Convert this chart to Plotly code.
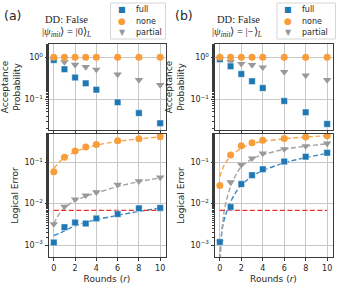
import plotly.graph_objects as go

rounds = [0, 1, 2, 3, 4, 6, 8, 10]

# Panel (a): |0>_L
acc_a_full = [0.86, 0.52, 0.33, 0.24, 0.17, 0.085, 0.047, 0.027]
acc_a_none = [1.0, 1.0, 1.0, 1.0, 1.0, 1.0, 1.0, 1.0]
acc_a_partial = [0.86, 0.77, 0.67, 0.59, 0.51, 0.39, 0.29, 0.22]
err_a_full = [0.00115, 0.0027, 0.0035, 0.0033, 0.0044, 0.0056, 0.0077, 0.0079]
err_a_none = [0.059, 0.132, 0.188, 0.235, 0.268, 0.334, 0.374, 0.418]
err_a_partial = [0.0032, 0.0085, 0.0127, 0.0159, 0.019, 0.029, 0.035, 0.043]

# Panel (b): |->_L
acc_b_full = [0.9, 0.61, 0.4, 0.27, 0.185, 0.091, 0.049, 0.026]
acc_b_none = [1.0, 1.0, 1.0, 1.0, 1.0, 1.0, 1.0, 1.0]
acc_b_partial = [0.9, 0.78, 0.7, 0.66, 0.58, 0.45, 0.37, 0.29]
err_b_full = [0.00118, 0.0083, 0.0297, 0.049, 0.068, 0.104, 0.137, 0.17]
err_b_none = [0.0275, 0.15, 0.25, 0.296, 0.34, 0.377, 0.41, 0.44]
err_b_partial = [0.00118, 0.033, 0.087, 0.125, 0.164, 0.209, 0.247, 0.286]

# Fit curves
fit_a_r = [0, 0.5, 1, 2, 3, 4, 6, 8, 10]
fit_a_full = [0.0017, 0.0019, 0.0022, 0.0029, 0.0035, 0.0041, 0.0052, 0.0065, 0.0078]
fit_a_none = [0.072, 0.1, 0.13, 0.18, 0.22, 0.26, 0.32, 0.37, 0.41]
fit_a_partial = [0.0033, 0.0056, 0.0079, 0.0117, 0.015, 0.018, 0.026, 0.034, 0.042]

fit_b_r = [0, 0.1, 0.25, 0.5, 1, 1.5, 2, 3, 4, 6, 8, 10]
fit_b_full = [0.0003, 0.0012, 0.0027, 0.005, 0.011, 0.019, 0.028, 0.046, 0.063, 0.097, 0.13, 0.165]
fit_b_none = [0.045, 0.055, 0.07, 0.095, 0.14, 0.18, 0.22, 0.28, 0.32, 0.37, 0.41, 0.44]
fit_b_partial = [0.0003, 0.0012, 0.0033, 0.009, 0.026, 0.05, 0.078, 0.12, 0.152, 0.205, 0.245, 0.28]

threshold = 0.0069
thr_r = [0, 10]

acc_ticks = [1, 0.1]
acc_ticktext = ["10<sup>0</sup>", "10<sup>−1</sup>"]
err_ticks = [0.1, 0.01, 0.001]
err_ticktext = ["10<sup>−1</sup>", "10<sup>−2</sup>", "10<sup>−3</sup>"]
x_ticks = [0, 2, 4, 6, 8, 10]
series_names = ["full", "none", "partial"]
legend_glyphs = ["■", "●", "▼"]

BLUE = "#1f77b4"
ORANGE = "#f99d3a"
GRAY = "#999999"
BLUE_L = "#3a88c5"
ORANGE_L = "#f7a54f"
GRAY_L = "#a3a3a3"
RED = "#e8312a"
TXT = "#262626"

W, H = 339, 300
def px(x):
    return x / W
def py(y):
    return 1 - y / H

fig = go.Figure()

panels = [
    dict(xa="x", ya="y", xb="x2", yb="y2",
         acc=(acc_a_full, acc_a_none, acc_a_partial),
         err=(err_a_full, err_a_none, err_a_partial),
         fit_r=fit_a_r, fit=(fit_a_full, fit_a_none, fit_a_partial)),
    dict(xa="x3", ya="y3", xb="x4", yb="y4",
         acc=(acc_b_full, acc_b_none, acc_b_partial),
         err=(err_b_full, err_b_none, err_b_partial),
         fit_r=fit_b_r, fit=(fit_b_full, fit_b_none, fit_b_partial)),
]

sty = {
    "full": dict(symbol="square", color=BLUE, size=6.5, line=dict(color="rgba(255,255,255,0.45)", width=1)),
    "none": dict(symbol="circle", color=ORANGE, size=7, line=dict(width=0)),
    "partial": dict(symbol="triangle-down", color=GRAY, size=7.5, line=dict(width=0)),
}
fitcol = {"full": BLUE_L, "none": ORANGE_L, "partial": GRAY_L}
glyphcol = {"full": BLUE, "none": ORANGE, "partial": GRAY}
draw_order = ["partial", "full", "none"]

for p in panels:
    for i, n in enumerate(series_names):
        fig.add_trace(go.Scatter(x=p["fit_r"], y=p["fit"][i], mode="lines",
                                 line=dict(color=fitcol[n], width=1.4, dash="5px,2.5px", shape="spline"),
                                 xaxis=p["xb"], yaxis=p["yb"], showlegend=False, hoverinfo="skip"))
    fig.add_trace(go.Scatter(x=thr_r, y=[threshold, threshold], mode="lines",
                             line=dict(color=RED, width=1.4, dash="5px,2.5px"),
                             xaxis=p["xb"], yaxis=p["yb"], showlegend=False))
    for n in draw_order:
        i = series_names.index(n)
        fig.add_trace(go.Scatter(x=rounds, y=p["acc"][i], mode="markers", name=n,
                                 marker=sty[n], xaxis=p["xa"], yaxis=p["ya"], showlegend=False))
        fig.add_trace(go.Scatter(x=rounds, y=p["err"][i], mode="markers", name=n,
                                 marker=sty[n], xaxis=p["xb"], yaxis=p["yb"], showlegend=False))

FRAME = "#3a3a3a"
GRID = "#c8c8c8"
tickfont = dict(family="DejaVu Sans", size=8, color=TXT)
titlefont = dict(family="DejaVu Sans", size=9, color=TXT)

def xax(domain, anchor, labels):
    return dict(domain=domain, anchor=anchor, range=[-0.5, 10.5], tickvals=x_ticks,
                showticklabels=labels, ticks="outside", ticklen=3, tickcolor=FRAME,
                showline=True, linecolor=FRAME, linewidth=1, mirror=True,
                showgrid=True, gridcolor=GRID, gridwidth=1, zeroline=False,
                tickfont=tickfont)

def yax(domain, anchor, rng, tv, tt, title):
    return dict(domain=domain, anchor=anchor, type="log", range=rng, tickvals=tv, ticktext=tt,
                ticks="outside", ticklen=3, tickcolor=FRAME,
                minor=dict(ticks="outside", ticklen=1.8, tickcolor=FRAME, showgrid=False),
                showline=True, linecolor=FRAME, linewidth=1, mirror=True,
                showgrid=True, gridcolor=GRID, gridwidth=1, zeroline=False,
                tickfont=tickfont,
                title=dict(text=title, font=titlefont, standoff=4))

dom_a = [px(48.5), px(165.5)]
dom_b = [px(214.5), px(332.5)]
dom_top = [py(130), py(44)]
dom_bot = [py(257), py(134)]
acc_rng = [-1.73, 0.317]
err_rng = [-3.29, -0.315]

xt = dict(text="Rounds (<i>r</i>)", font=titlefont, standoff=4)
fig.update_layout(
    width=W, height=H, margin=dict(l=0, r=0, t=0, b=0),
    paper_bgcolor="white", plot_bgcolor="white", showlegend=False,
    xaxis=xax(dom_a, "y", False),
    yaxis=yax(dom_top, "x", acc_rng, acc_ticks, acc_ticktext, "Acceptance<br>Probability"),
    xaxis2=dict(**xax(dom_a, "y2", True), title=xt),
    yaxis2=yax(dom_bot, "x2", err_rng, err_ticks, err_ticktext, "Logical Error"),
    xaxis3=xax(dom_b, "y3", False),
    yaxis3=yax(dom_top, "x3", acc_rng, acc_ticks, acc_ticktext, "Acceptance<br>Probability"),
    xaxis4=dict(**xax(dom_b, "y4", True), title=xt),
    yaxis4=yax(dom_bot, "x4", err_rng, err_ticks, err_ticktext, "Logical Error"),
)

serif = dict(family="Liberation Serif", size=10.5, color=TXT)
ann = [
    dict(text="(a)", x=px(2), y=py(15), xanchor="left", yanchor="middle",
         font=dict(family="DejaVu Sans", size=12.5, color=TXT)),
    dict(text="(b)", x=px(173), y=py(15), xanchor="left", yanchor="middle",
         font=dict(family="DejaVu Sans", size=12.5, color=TXT)),
    dict(text="DD: False", x=px(43), y=py(19), xanchor="left", yanchor="middle", font=serif),
    dict(text="|<i>ψ</i><sub><i>init</i></sub>⟩ = |0⟩<sub><i>L</i></sub>", x=px(40), y=py(32),
         xanchor="left", yanchor="middle", font=serif),
    dict(text="DD: False", x=px(215), y=py(19), xanchor="left", yanchor="middle", font=serif),
    dict(text="|<i>ψ</i><sub><i>init</i></sub>⟩ = |−⟩<sub><i>L</i></sub>", x=px(210), y=py(32),
         xanchor="left", yanchor="middle", font=serif),
]

# Manual legends (box + glyph + label) for each panel
shapes = []
leg_specs = [dict(x0=110.5, x1=165.5, mx=122, tx=134),
             dict(x0=277, x1=335.5, mx=288, tx=300)]
entry_y = [9.5, 21.5, 32.5]
for s in leg_specs:
    shapes.append(dict(type="rect", xref="paper", yref="paper",
                       x0=px(s["x0"]), x1=px(s["x1"]), y0=py(39), y1=py(3),
                       line=dict(color="#d6d6d6", width=1), fillcolor="rgba(255,255,255,0.85)",
                       layer="above"))
    for n, g, yy in zip(series_names, legend_glyphs, entry_y):
        gs = 9 if g == "●" else 8
        ann.append(dict(text=g, x=px(s["mx"]), y=py(yy), xanchor="center", yanchor="middle",
                        font=dict(family="DejaVu Sans", size=gs, color=glyphcol[n])))
        ann.append(dict(text=n, x=px(s["tx"]), y=py(yy), xanchor="left", yanchor="middle",
                        font=dict(family="DejaVu Sans", size=8, color=TXT)))

for a in ann:
    a.update(xref="paper", yref="paper", showarrow=False)
fig.update_layout(annotations=ann, shapes=shapes)

fig.write_html("out.html", config={"displayModeBar": False},
               post_script="document.body.style.margin='0px';")
